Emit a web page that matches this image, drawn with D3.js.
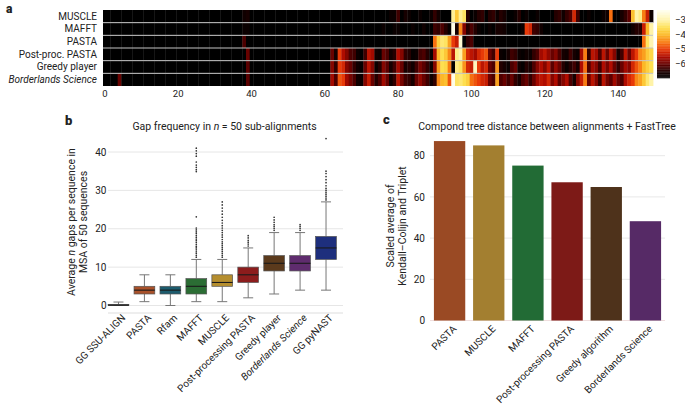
<!DOCTYPE html>
<html><head><meta charset="utf-8">
<script src="https://cdn.jsdelivr.net/npm/d3@7"></script>
<style>
body{margin:0;background:#fff}
svg{display:block}
text{font-family:Roboto,"Noto Sans",sans-serif;fill:#222}
</style>
</head><body>
<svg id="chart" width="685" height="407"></svg>
<script>
// ---------- Panel a: heatmap data ----------
const heatRows = ["MUSCLE","MAFFT","PASTA","Post-proc. PASTA","Greedy player","Borderlands Science"];
const heatMUSCLE = [
-7,-7,-7,-7,-7,-7,-7,-7,-7,-7,
-7,-7,-7,-7,-7,-7,-7,-7,-7,-7,
-7,-7,-7,-7,-7,-7,-7,-7,-7,-7,
-7,-7,-7,-7,-7,-7,-7,-7,-6.7,-6.6,
-7,-7,-7,-7,-7,-7,-7,-7,-7,-7,
-7,-7,-7,-7,-7,-7,-7,-7,-7,-7,
-7,-7,-7,-7,-7,-7,-7,-7,-7,-7,
-7,-7,-7,-7,-7,-7,-7,-7,-6.8,-6.8,
-6.3,-7,-6.6,-6.8,-7,-7,-6.8,-7,-7,-6.8,
-6.4,-6.7,-7,-7,-7,-3.1,-3.8,-3.1,-3.4,-6.5,
-7,-6.8,-6.5,-6.4,-7,-6.5,-6.4,-6.8,-6.5,-6.6,
-7,-7,-6.8,-6.5,-7,-6.8,-7,-7,-6.8,-7,
-7,-7,-7,-6.5,-6.4,-6.7,-6.4,-6.2,-5.2,-6.3,
-7,-7,-6.8,-7,-7,-7,-6.8,-6.7,-4.6,-7,
-7,-6.6,-6.4,-6.1,-3.9,-3.0,-3.2,-4.5,-5.3,-6.8];
const heatMAFFT = [
-7,-7,-7,-7,-7,-7,-7,-7,-7,-7,
-7,-7,-7,-7,-7,-7,-7,-7,-7,-7,
-7,-7,-7,-7,-7,-7,-7,-7,-7,-7,
-7,-7,-7,-7,-7,-7,-7,-7,-6.8,-6.8,
-7,-7,-7,-7,-7,-7,-7,-7,-7,-7,
-7,-7,-7,-7,-7,-7,-7,-7,-7,-7,
-7,-7,-7,-7,-7,-7,-7,-7,-7,-7,
-7,-7,-7,-7,-7,-7,-6.8,-7,-7,-6.8,
-6.8,-7,-7,-7,-6.8,-7,-7,-6.7,-7,-7,
-6.3,-6.4,-6.2,-6.5,-6.9,-2.4,-6.6,-4.4,-5.8,-6.5,
-6.2,-6.5,-6.8,-7,-7,-6.8,-7,-6.6,-6.6,-6.7,
-7,-7,-7,-7,-6.8,-5.0,-5.2,-6.3,-6.4,-6.7,
-7,-7,-7,-7,-7,-7,-7,-7,-7,-7,
-7,-7,-7,-7,-7,-7,-7,-7,-7,-7,
-7,-7,-7,-7,-6.7,-6.5,-6.5,-5.3,-4.0,-3.0];
const heatPASTA = [
-7,-7,-7,-7,-7,-7,-7,-7,-7,-7,
-7,-7,-7,-7,-7,-7,-7,-7,-7,-7,
-7,-7,-7,-7,-7,-7,-7,-7,-7,-7,
-7,-7,-7,-7,-7,-7,-7,-7,-6.2,-7,
-7,-7,-7,-7,-7,-7,-7,-7,-7,-7,
-7,-7,-7,-7,-7,-7,-7,-7,-7,-7,
-7,-7,-7,-7,-7,-7,-7,-7,-7,-7,
-7,-7,-7,-7,-7,-7,-7,-7,-7,-7,
-7,-7,-7,-7,-7,-7,-7,-7,-7,-7,
-4.6,-3.7,-3.3,-3.4,-4.2,-5.0,-5.3,-2.6,-7,-6.4,
-6.2,-7,-7,-7,-7,-7,-7,-7,-7,-7,
-7,-7,-7,-7,-7,-7,-7,-7,-7,-7,
-7,-7,-7,-7,-7,-7,-7,-7,-7,-7,
-7,-7,-7,-7,-7,-7,-7,-7,-7,-7,
-7,-7,-7,-7,-7,-7,-7,-4.6,-3.4,-2.9];
const heatPostProc = [
-7,-7,-7,-7,-7,-7,-7,-7,-7,-7,
-7,-7,-7,-7,-7,-7,-7,-7,-7,-7,
-7,-7,-7,-7,-7,-7,-7,-7,-7,-7,
-7,-7,-7,-7,-7,-7,-7,-7,-7,-6.0,
-7,-7,-7,-7,-7,-7,-7,-7,-7,-7,
-7,-7,-7,-7,-7,-7,-7,-7,-7,-7,
-7,-7,-6.0,-6.6,-5.0,-5.5,-5.8,-6.2,-6.3,-6.8,
-7,-6.3,-5.4,-5.6,-6.7,-6.8,-6.0,-6.2,-6.7,-6.5,
-5.5,-5.8,-6.4,-6.5,-6.9,-6.8,-6.3,-6.2,-6.5,-6.9,
-5.6,-4.0,-3.5,-3.8,-4.4,-5.4,-3.2,-3.0,-4.2,-5.2,
-5.4,-5.6,-5.2,-5.0,-4.8,-6.0,-6.3,-5.0,-6.8,-6.9,
-6.6,-6.3,-6.4,-6.8,-6.9,-6.7,-6.8,-6.4,-6.2,-5.6,
-5.4,-5.7,-6.0,-5.8,-6.2,-6.6,-6.7,-6.3,-6.6,-6.8,
-5.6,-4.5,-6.4,-5.4,-5.6,-6.2,-5.4,-6.0,-5.4,-5.8,
-6.6,-6.3,-5.4,-6.0,-5.4,-5.0,-4.4,-4.2,-3.8,-3.6];
const heatGreedy = [
-7,-7,-7,-7,-7,-7,-7,-7,-7,-7,
-7,-7,-7,-7,-7,-7,-7,-7,-7,-7,
-7,-7,-7,-7,-7,-7,-7,-7,-7,-7,
-7,-7,-7,-7,-7,-7,-7,-7,-7,-6.1,
-7,-7,-7,-7,-7,-7,-7,-7,-7,-7,
-7,-7,-7,-7,-7,-7,-7,-7,-7,-7,
-7,-7,-5.8,-6.4,-5.0,-5.2,-5.8,-6.0,-6.4,-6.7,
-6.9,-6.0,-5.4,-5.8,-6.8,-6.5,-5.8,-6.1,-6.6,-6.3,
-5.6,-6.0,-6.6,-6.5,-6.7,-6.3,-5.9,-6.1,-6.4,-6.8,
-5.8,-4.2,-3.5,-3.6,-4.5,-6.9,-3.2,-3.4,-4.3,-5.2,
-5.3,-2.8,-5.0,-5.4,-5.2,-6.0,-6.2,-4.3,-6.5,-6.6,
-6.8,-6.2,-6.0,-6.7,-6.9,-6.5,-6.6,-6.2,-5.8,-5.5,
-5.8,-5.4,-6.1,-5.7,-6.0,-6.5,-6.8,-6.5,-6.3,-6.6,
-5.5,-4.6,-6.2,-5.6,-5.8,-6.3,-5.5,-5.9,-5.5,-6.0,
-6.4,-6.0,-5.6,-5.8,-5.2,-4.8,-4.5,-4.0,-3.7,-3.5];
const heatBorderlands = [
-7,-7,-7,-7,-6.0,-7,-7,-7,-7,-7,
-7,-7,-7,-7,-7,-7,-7,-7,-7,-7,
-7,-7,-7,-7,-7,-7,-7,-7,-7,-7,
-7,-7,-7,-7,-7,-7,-7,-7,-7,-6.1,
-7,-7,-7,-7,-7,-7,-7,-7,-7,-7,
-7,-7,-7,-7,-7,-7,-7,-7,-7,-7,
-7,-7,-5.6,-6.2,-4.8,-5.0,-5.6,-5.9,-6.2,-6.7,
-6.8,-5.8,-5.3,-6.0,-6.5,-6.2,-5.6,-6.0,-6.7,-6.4,
-5.4,-5.9,-6.3,-6.4,-6.6,-6.0,-5.7,-6.0,-6.3,-6.7,
-6.4,-4.4,-4.0,-3.9,-4.8,-2.4,-3.4,-3.3,-3.5,-3.7,
-4.6,-4.8,-5.0,-5.2,-5.3,-6.0,-6.2,-4.2,-6.2,-6.0,
-6.3,-6.0,-6.4,-6.6,-6.2,-6.0,-6.4,-6.0,-5.6,-5.4,
-5.5,-5.2,-5.8,-5.5,-6.1,-5.8,-5.5,-6.2,-6.6,-5.8,
-5.3,-4.5,-6.0,-5.4,-5.8,-6.4,-5.4,-5.9,-6.1,-5.6,
-6.0,-6.2,-5.5,-5.2,-5.0,-4.4,-4.2,-3.8,-3.3,-3.0];
const heatXTicks = [0,20,40,60,80,100,120,140];
const colorbarTicks = [-3,-4,-5,-6];

// ---------- Panel b: box plot data ----------
const boxCategories = ["GG SSU-ALIGN","PASTA","Rfam","MAFFT","MUSCLE","Post-processing PASTA","Greedy player","Borderlands Science","GG pyNAST"];
const boxWhiskerLow  = [0,   1, 0, 1,  1,  2,  3,  4,  4];
const boxQ1          = [0,   3, 3, 3,  5,  6,  9,  9,  12];
const boxMedian      = [0.1, 4, 4, 5,  6,  8,  11, 11, 15];
const boxQ3          = [0.3, 5, 5, 7,  8,  10, 13, 13, 18];
const boxWhiskerHigh = [0.9, 8, 8, 12, 12, 15, 19, 19, 27];
const boxOutliers = [
  [], [], [],
  [12.6,13.1,13.6,14.0,14.5,15.0,15.4,15.9,16.4,16.9,17.3,17.8,18.3,18.8,19.2,19.7,20.2,23.1,34.9,35.4,36.0,36.6,37.4,38.9,39.6,40.3,41.0],
  [12.6,13.1,13.6,14.1,14.6,15.1,15.6,16.1,16.6,17.2,17.8,18.4,19.0,19.6,20.2,20.8,21.5,22.2,23.0,23.8,24.6,25.4,26.2,27.0],
  [15.5,16.0,16.5,17.0,17.6,18.2],
  [19.6,20.1,20.6,21.1,21.7,22.3,23.0],
  [19.6,20.1,20.6,21.1],
  [27.5,28.0,28.5,29.0,29.5,30.0,30.5,31.2,32.0,32.8,33.6,34.4,35.0,43.5]
];
const boxColors = ["#3a3a3a","#a9512a","#1d5c6e","#2b6d34","#b58e2e","#8c1c1c","#5b3a1c","#5f2c6e","#1e2f7d"];
const gapTicks = [0,10,20,30,40];

// ---------- Panel c: bar data ----------
const barCategories = ["PASTA","MUSCLE","MAFFT","Post-processing PASTA","Greedy algorithm","Borderlands Science"];
const barValues = [87.1, 85.0, 75.2, 67.1, 64.8, 48.2];
const barColors = ["#9a4a24","#a37f30","#226b35","#7d1a17","#4e321b","#562a66"];
const barTicks = [0,20,40,60,80];

// =====================================================
const svg = d3.select("#chart");
svg.append("rect").attr("width",685).attr("height",407).attr("fill","#fff");

// ---------- Panel a ----------
const heatData = [heatMUSCLE, heatMAFFT, heatPASTA, heatPostProc, heatGreedy, heatBorderlands];
const hx = d3.scaleLinear().domain([-0.5, 149.5]).range([103, 653]);
const hy = d3.scaleBand().domain(heatRows).range([10, 86]);
const heatColor = d3.scaleLinear()
  .domain([-7, -6.6, -6.1, -5.5, -5.0, -4.5, -4.0, -3.5, -3.0, -2.3])
  .range(["#000000","#160000","#5a0000","#b00c00","#e83a08","#f87c12","#fcb828","#fedf50","#fff3a8","#fffff0"])
  .clamp(true);

const ga = svg.append("g");
heatData.forEach((row, r) => {
  ga.append("g").selectAll("rect").data(row).join("rect")
    .attr("x", (d, i) => hx(i - 0.5))
    .attr("width", (d, i) => hx(i + 0.5) - hx(i - 0.5) + 0.4)
    .attr("y", hy(heatRows[r]))
    .attr("height", hy.bandwidth())
    .attr("fill", d => heatColor(d));
});
heatRows.slice(1).forEach(name => {
  ga.append("line").attr("x1", 103).attr("x2", 653)
    .attr("y1", hy(name)).attr("y2", hy(name))
    .attr("stroke", "#c4c4c4").attr("stroke-width", 1);
});
ga.selectAll("text.rl").data(heatRows).join("text").attr("class","rl")
  .attr("x", 97).attr("y", d => hy(d) + hy.bandwidth()/2 + 3.2)
  .attr("text-anchor","end").attr("font-size", 10)
  .attr("font-style", d => d === "Borderlands Science" ? "italic" : "normal")
  .text(d => d);
ga.selectAll("text.xt").data(heatXTicks).join("text").attr("class","xt")
  .attr("x", d => hx(d)).attr("y", 96.5)
  .attr("text-anchor","middle").attr("font-size", 9.5).attr("fill","#333")
  .text(d => d);
const cbY = d3.scaleLinear().domain([-7, -2.3]).range([78, 10]);
const cbSteps = d3.range(-7, -2.3, 0.05);
ga.append("g").selectAll("rect").data(cbSteps).join("rect")
  .attr("x", 657).attr("width", 13)
  .attr("y", d => cbY(d + 0.05)).attr("height", d => cbY(d) - cbY(d + 0.05) + 0.3)
  .attr("fill", d => heatColor(d + 0.025));
ga.selectAll("text.cb").data(colorbarTicks).join("text").attr("class","cb")
  .attr("x", 675).attr("y", d => cbY(d) + 3.3)
  .attr("font-size", 9.5).attr("fill","#333")
  .text(d => "\u2212" + Math.abs(d));
svg.append("text").attr("x", 6).attr("y", 13).attr("font-size", 12)
  .attr("font-weight", 900).attr("font-family","Liberation Sans, Arial").text("a");

// ---------- Panel b ----------
const gb = svg.append("g");
const bx = d3.scaleBand().domain(boxCategories).range([105.5, 339]);
const by = d3.scaleLinear().domain([0, 40]).range([305.5, 152]);
gb.selectAll("line.grid").data(gapTicks).join("line").attr("class","grid")
  .attr("x1", 108).attr("x2", 343).attr("y1", d => by(d)).attr("y2", d => by(d))
  .attr("stroke", "#e6e6e6").attr("stroke-width", 1);
gb.append("line").attr("x1",108).attr("x2",343).attr("y1",313).attr("y2",313)
  .attr("stroke","#eeeeee").attr("stroke-width",2);
const yAxisB = d3.axisLeft(by).tickValues(gapTicks).tickSize(0).tickPadding(0);
gb.append("g").attr("transform","translate(106.5,0)").call(yAxisB)
  .call(g => g.select(".domain").remove())
  .selectAll("text").attr("font-size", 10).attr("fill","#333")
  .attr("font-family","Roboto,sans-serif");

const bw = bx.bandwidth() * 0.8;
boxCategories.forEach((c, i) => {
  const cx = bx(c) + bx.bandwidth()/2;
  const g = gb.append("g");
  g.append("line").attr("x1",cx).attr("x2",cx).attr("y1",by(boxWhiskerLow[i])).attr("y2",by(boxQ1[i]))
    .attr("stroke","#777").attr("stroke-width",1);
  g.append("line").attr("x1",cx).attr("x2",cx).attr("y1",by(boxQ3[i])).attr("y2",by(boxWhiskerHigh[i]))
    .attr("stroke","#777").attr("stroke-width",1);
  [boxWhiskerLow[i], boxWhiskerHigh[i]].forEach(v => {
    g.append("line").attr("x1",cx-5).attr("x2",cx+5).attr("y1",by(v)).attr("y2",by(v))
      .attr("stroke","#777").attr("stroke-width",1);
  });
  g.append("rect").attr("x", cx - bw/2).attr("width", bw)
    .attr("y", by(boxQ3[i])).attr("height", Math.max(1.2, by(boxQ1[i]) - by(boxQ3[i])))
    .attr("fill", boxColors[i]).attr("stroke", "#555").attr("stroke-width", 0.7);
  g.append("line").attr("x1",cx-bw/2).attr("x2",cx+bw/2).attr("y1",by(boxMedian[i])).attr("y2",by(boxMedian[i]))
    .attr("stroke","#1a1a1a").attr("stroke-width",1.1);
  g.selectAll("circle").data(boxOutliers[i]).join("circle")
    .attr("cx", cx).attr("cy", d => by(d)).attr("r", 0.85).attr("fill","#333");
});
gb.selectAll("text.xl").data(boxCategories).join("text").attr("class","xl")
  .attr("transform", d => `translate(${bx(d) + bx.bandwidth()/2 + 5},${316}) rotate(-45)`)
  .attr("text-anchor","end").attr("dy","0.35em").attr("font-size", 10).attr("fill","#333")
  .attr("font-style", d => d === "Borderlands Science" ? "italic" : "normal")
  .text(d => d);
const titleB = gb.append("text").attr("x", 224.5).attr("y", 130).attr("text-anchor","middle").attr("font-size", 10.5);
titleB.append("tspan").text("Gap frequency in ");
titleB.append("tspan").attr("font-style","italic").text("n");
titleB.append("tspan").text(" = 50 sub-alignments");
const ylabB = gb.append("text").attr("transform","translate(75,222) rotate(-90)").attr("text-anchor","middle").attr("font-size",10.5);
ylabB.append("tspan").text("Average ");
ylabB.append("tspan").attr("font-style","italic").text("n");
ylabB.append("tspan").text(" gaps per sequence in");
gb.append("text").attr("transform","translate(87,222) rotate(-90)").attr("text-anchor","middle").attr("font-size",10.5)
  .text("MSA of 50 sequences");
svg.append("text").attr("x", 65).attr("y", 125).attr("font-size", 13)
  .attr("font-weight", 900).attr("font-family","Liberation Sans, Arial").text("b");

// ---------- Panel c ----------
const gc = svg.append("g");
const cxs = d3.scaleBand().domain(barCategories).range([430, 665]).paddingInner(0.2).paddingOuter(0.1);
const cys = d3.scaleLinear().domain([0, 80]).range([320.5, 155.7]);
gc.selectAll("line.grid").data(barTicks).join("line").attr("class","grid")
  .attr("x1", 430).attr("x2", 665).attr("y1", d => cys(d)).attr("y2", d => cys(d))
  .attr("stroke", d => d === 0 ? "#f0dede" : "#e8e8e8").attr("stroke-width", 1);
const yAxisC = d3.axisLeft(cys).tickValues(barTicks).tickSize(0).tickPadding(0);
gc.append("g").attr("transform","translate(425,0)").call(yAxisC)
  .call(g => g.select(".domain").remove())
  .selectAll("text").attr("font-size", 10).attr("fill","#333")
  .attr("font-family","Roboto,sans-serif");
gc.selectAll("rect.bar").data(barValues).join("rect").attr("class","bar")
  .attr("x", (d, i) => cxs(barCategories[i]))
  .attr("width", cxs.bandwidth())
  .attr("y", d => cys(d)).attr("height", d => cys(0) - cys(d))
  .attr("fill", (d, i) => barColors[i]);
gc.selectAll("text.xl").data(barCategories).join("text").attr("class","xl")
  .attr("transform", d => `translate(${cxs(d) + cxs.bandwidth()/2 + 5},${327}) rotate(-45)`)
  .attr("text-anchor","end").attr("dy","0.35em").attr("font-size", 10).attr("fill","#333")
  .text(d => d);
gc.append("text").attr("x", 547).attr("y", 130).attr("text-anchor","middle").attr("font-size",10.5)
  .text("Compond tree distance between alignments + FastTree");
gc.append("text").attr("transform","translate(394,226) rotate(-90)").attr("text-anchor","middle").attr("font-size",10.5)
  .text("Scaled average of");
gc.append("text").attr("transform","translate(406,226) rotate(-90)").attr("text-anchor","middle").attr("font-size",10.5)
  .text("Kendall\u2013Colijn and Triplet");
svg.append("text").attr("x", 383).attr("y", 124).attr("font-size", 13)
  .attr("font-weight", 900).attr("font-family","Liberation Sans, Arial").text("c");
</script>
</body></html>
